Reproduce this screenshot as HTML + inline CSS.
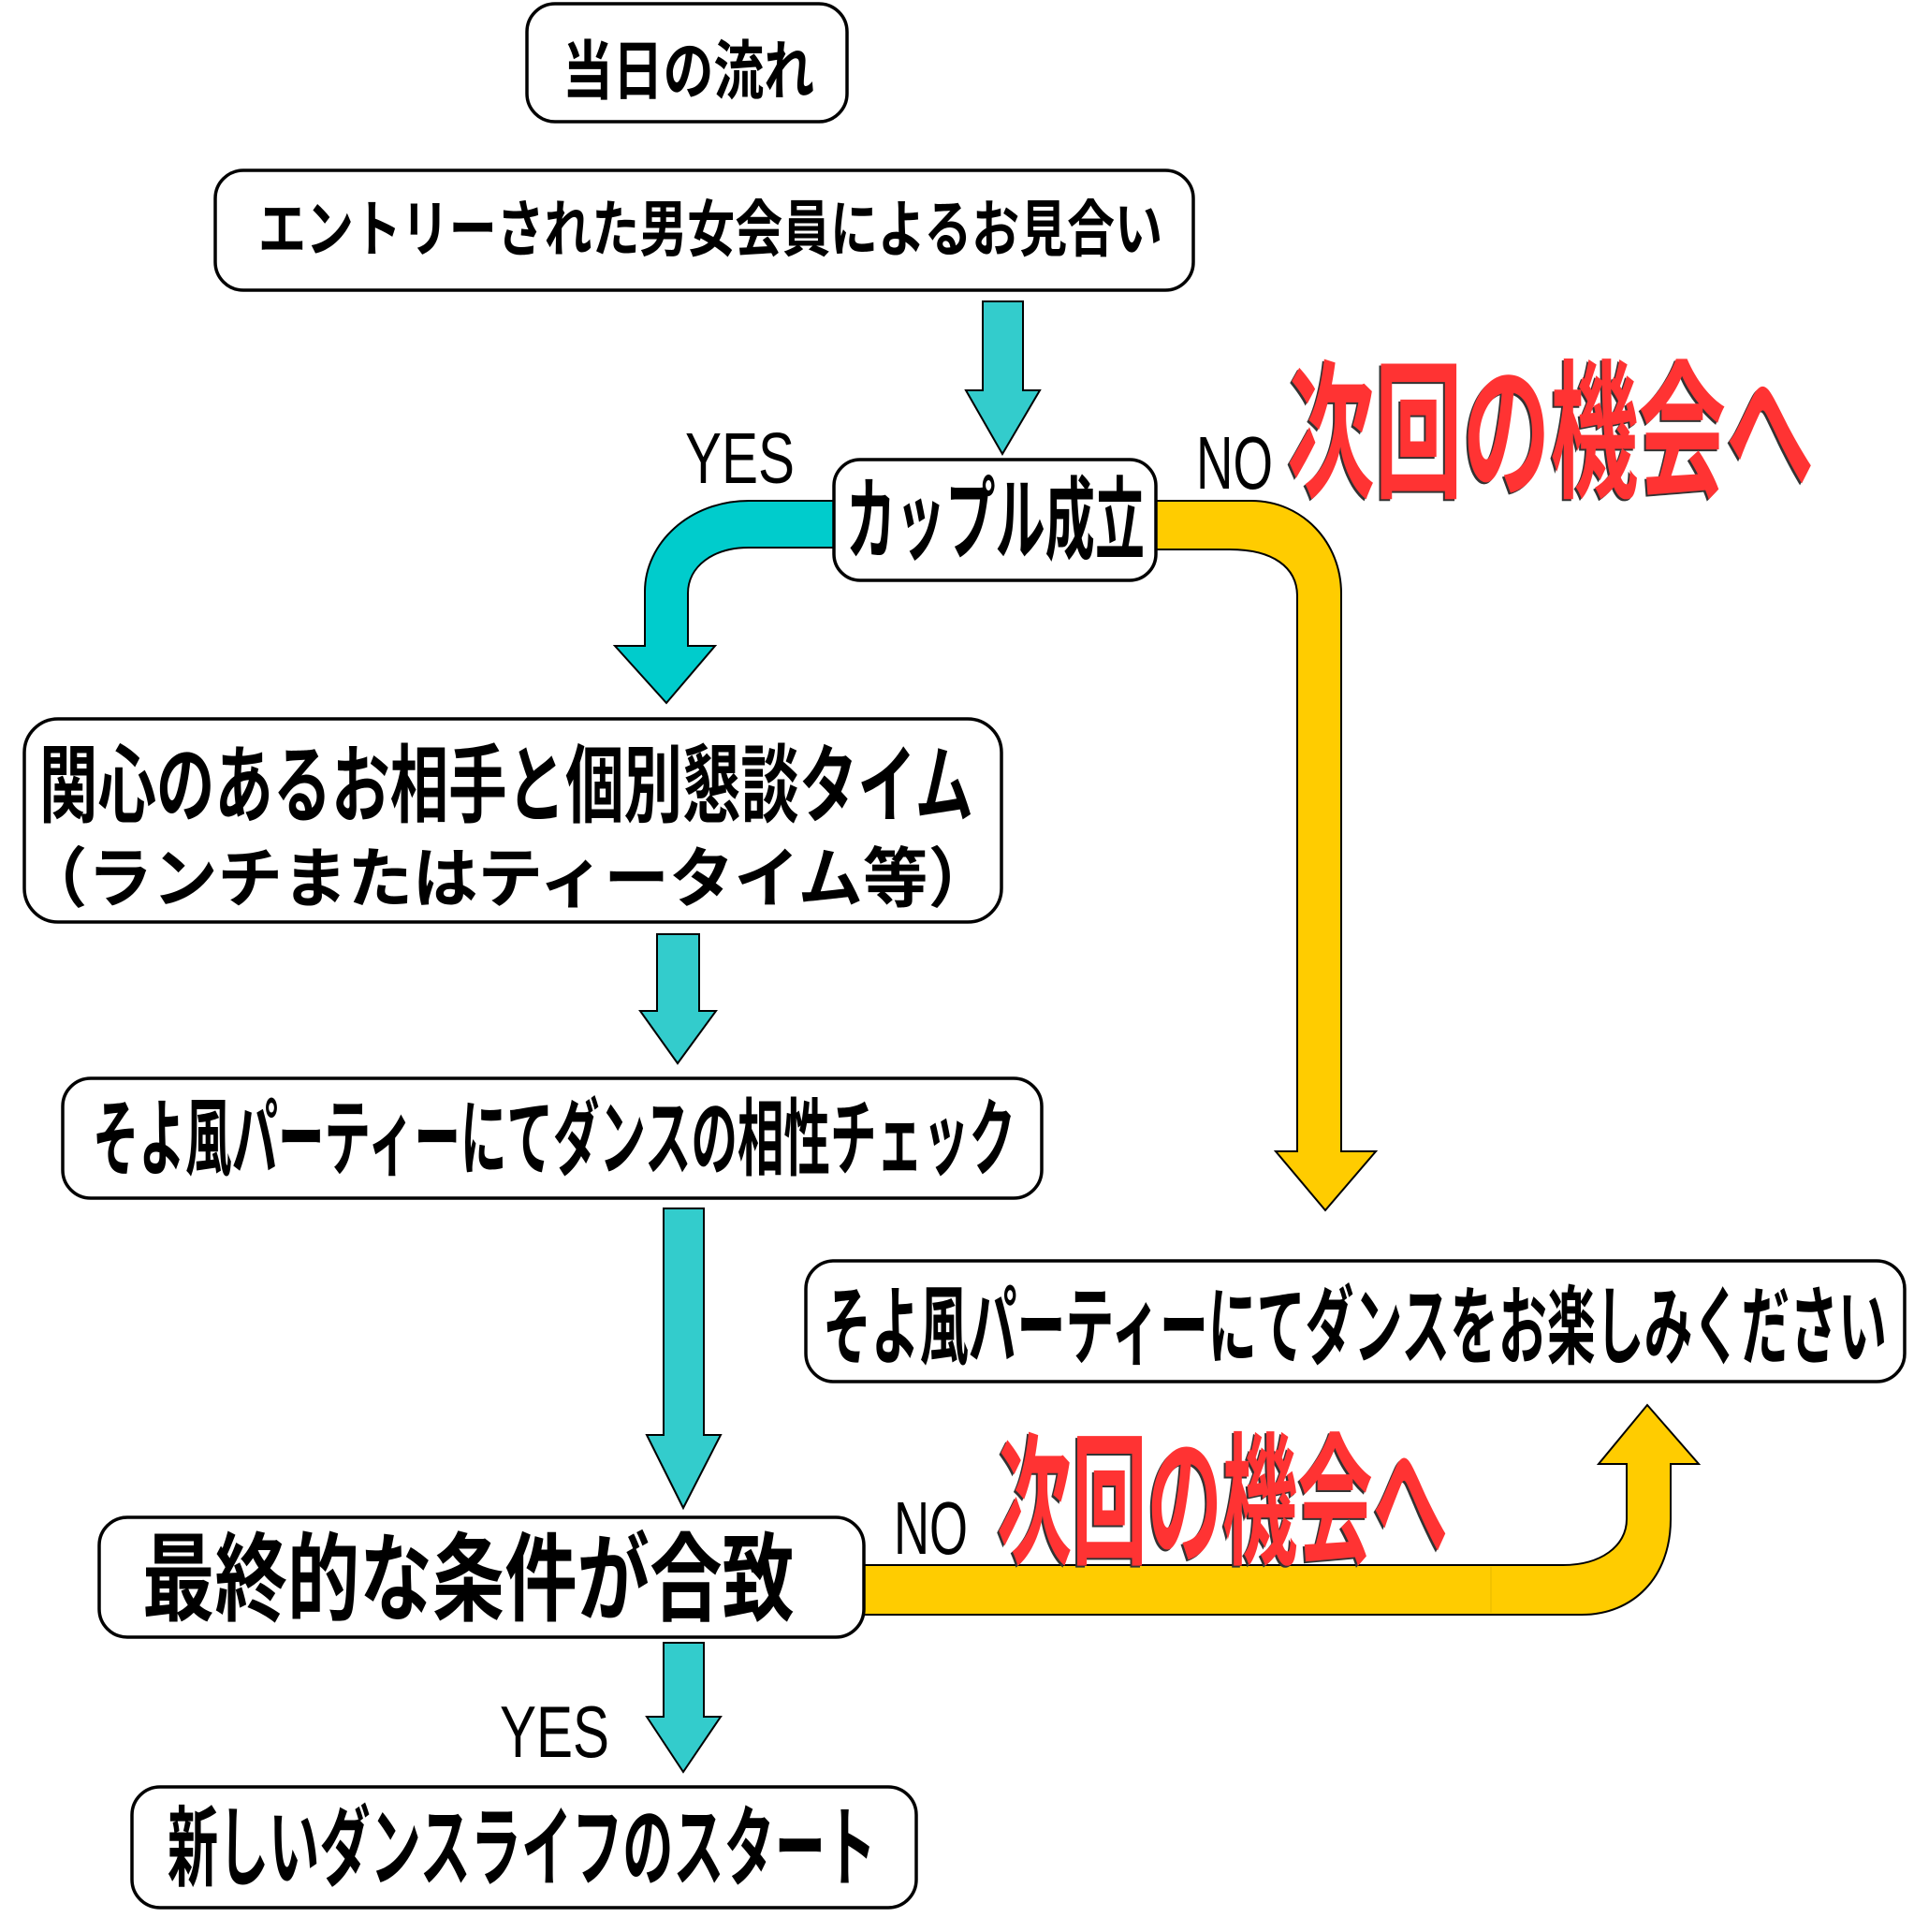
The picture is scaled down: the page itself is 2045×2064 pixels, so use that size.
<!DOCTYPE html>
<html>
<head>
<meta charset="utf-8">
<style>
html,body{margin:0;padding:0;background:#fff;}
svg{display:block;}
.jp{font-family:"Liberation Sans","Noto Sans CJK JP",sans-serif;font-weight:700;fill:#000;}
.lb{font-family:"Liberation Sans",sans-serif;font-weight:400;fill:#000;}
.rd{font-family:"Liberation Sans","Noto Sans CJK JP",sans-serif;font-weight:700;}
</style>
</head>
<body>
<svg width="2045" height="2064" viewBox="0 0 2045 2064" xmlns="http://www.w3.org/2000/svg">
<rect x="0" y="0" width="2045" height="2064" fill="#fff"/>

<!-- teal curved YES arrow -->
<path d="M 900 535 L 800 535 C 737 535 689 580 689 632 L 689 690 L 657 690 L 712 751 L 764 690 L 735 690 L 735 634 C 735 605 762 585 800 585 L 900 585 Z" fill="#00CCCC" stroke="#000" stroke-width="2"/>

<!-- yellow top NO arrow -->
<path d="M 1225 535 L 1337 535 C 1392 535 1433 580 1433 634 L 1433 1230 L 1470 1230 L 1416 1293 L 1363 1230 L 1386 1230 L 1386 637 C 1386 606 1360 587 1314 587 L 1225 587 Z" fill="#FFCC00" stroke="#000" stroke-width="2"/>

<!-- yellow bottom NO arrow -->
<path d="M 915 1672 L 1670 1672 C 1710 1672 1738 1652 1738 1623 L 1738 1564 L 1708 1564 L 1760 1501 L 1815 1564 L 1785 1564 L 1785 1623 C 1785 1685 1745 1725 1690 1725 L 915 1725 Z" fill="#FFCC00" stroke="#000" stroke-width="2"/>
<line x1="1593" y1="1674" x2="1593" y2="1723" stroke="#E6B800" stroke-width="1"/>

<!-- light teal straight arrows -->
<polygon points="1050,322 1093,322 1093,417 1111,417 1071,485 1032,417 1050,417" fill="#33CCCC" stroke="#000" stroke-width="2"/>
<polygon points="702,998 747,998 747,1080 765,1080 724,1136 684,1080 702,1080" fill="#33CCCC" stroke="#000" stroke-width="2"/>
<polygon points="709,1291 752,1291 752,1533 770,1533 730,1611 691,1533 709,1533" fill="#33CCCC" stroke="#000" stroke-width="2"/>
<polygon points="709,1755 752,1755 752,1834 770,1834 730,1893 691,1834 709,1834" fill="#33CCCC" stroke="#000" stroke-width="2"/>

<!-- boxes -->
<g fill="#fff" stroke="#000" stroke-width="3.5">
<rect x="563" y="4" width="342" height="126" rx="30" ry="30"/>
<rect x="230" y="182" width="1045" height="128" rx="30" ry="30"/>
<rect x="891" y="491" width="344" height="129" rx="28" ry="28"/>
<rect x="26" y="768" width="1044" height="217" rx="36" ry="36"/>
<rect x="67" y="1152" width="1046" height="128" rx="30" ry="30"/>
<rect x="861" y="1347" width="1174" height="129" rx="30" ry="30"/>
<rect x="106" y="1621" width="817" height="128" rx="30" ry="30"/>
<rect x="141" y="1909" width="838" height="129" rx="30" ry="30"/>
</g>

<!-- box texts -->
<text class="jp" x="601" y="100" font-size="69" textLength="269" lengthAdjust="spacingAndGlyphs">当日の流れ</text>
<text class="jp" x="276" y="268" font-size="66" textLength="966" lengthAdjust="spacingAndGlyphs">エントリーされた男女会員によるお見合い</text>
<text class="jp" x="904" y="590" font-size="97" textLength="319" lengthAdjust="spacingAndGlyphs">カップル成立</text>
<text class="jp" x="42" y="871" font-size="91" textLength="998" lengthAdjust="spacingAndGlyphs">関心のあるお相手と個別懇談タイム</text>
<text class="jp" x="24" y="963" font-size="70" textLength="1037" lengthAdjust="spacingAndGlyphs">（ランチまたはティータイム等）</text>
<text class="jp" x="99" y="1248" font-size="90" textLength="986" lengthAdjust="spacingAndGlyphs">そよ風パーティーにてダンスの相性チェック</text>
<text class="jp" x="879" y="1450" font-size="92" textLength="1137" lengthAdjust="spacingAndGlyphs">そよ風パーティーにてダンスをお楽しみください</text>
<text class="jp" x="152" y="1723" font-size="103" textLength="697" lengthAdjust="spacingAndGlyphs">最終的な条件が合致</text>
<text class="jp" x="179" y="2007" font-size="94" textLength="757" lengthAdjust="spacingAndGlyphs">新しいダンスライフのスタート</text>

<!-- YES / NO labels -->
<text class="lb" x="732" y="516" font-size="77" textLength="117" lengthAdjust="spacingAndGlyphs">YES</text>
<text class="lb" x="1278" y="522" font-size="80" textLength="82" lengthAdjust="spacingAndGlyphs">NO</text>
<text class="lb" x="955" y="1660" font-size="80" textLength="79" lengthAdjust="spacingAndGlyphs">NO</text>
<text class="lb" x="534" y="1877" font-size="78" textLength="117" lengthAdjust="spacingAndGlyphs">YES</text>

<!-- red texts -->
<text class="rd" x="1373" y="521" font-size="160" textLength="563" lengthAdjust="spacingAndGlyphs" fill="#333">次回の機会へ</text>
<text class="rd" x="1375" y="519" font-size="160" textLength="563" lengthAdjust="spacingAndGlyphs" fill="#FF3333">次回の機会へ</text>
<text class="rd" x="1063" y="1661" font-size="153" textLength="482" lengthAdjust="spacingAndGlyphs" fill="#333">次回の機会へ</text>
<text class="rd" x="1065" y="1659" font-size="153" textLength="482" lengthAdjust="spacingAndGlyphs" fill="#FF3333">次回の機会へ</text>
</svg>
</body>
</html>
